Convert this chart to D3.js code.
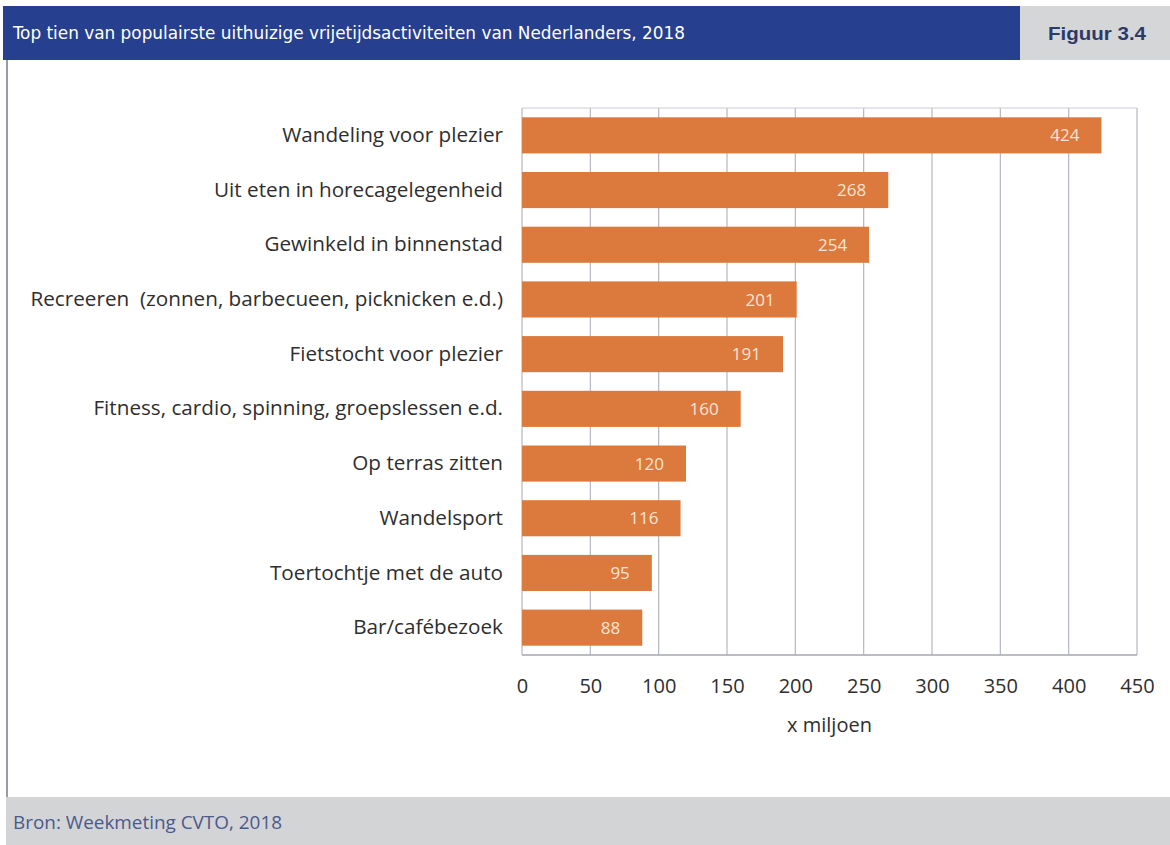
<!DOCTYPE html>
<html>
<head>
<meta charset="utf-8">
<script src="https://cdn.jsdelivr.net/npm/d3@7"></script>
<style>
  html, body { margin: 0; padding: 0; background: #ffffff; }
  svg { display: block; }
  .cat text { white-space: pre; }
</style>
</head>
<body>
<svg id="chart" width="1170" height="845"></svg>
<script>
// Activities, top to bottom, with visits in millions
const categories = [
  "Wandeling voor plezier",
  "Uit eten in horecagelegenheid",
  "Gewinkeld in binnenstad",
  "Recreeren  (zonnen, barbecueen, picknicken e.d.)",
  "Fietstocht voor plezier",
  "Fitness, cardio, spinning, groepslessen e.d.",
  "Op terras zitten",
  "Wandelsport",
  "Toertochtje met de auto",
  "Bar/cafébezoek"
];
const values = [424, 268, 254, 201, 191, 160, 120, 116, 95, 88];
const xTicks = [0, 50, 100, 150, 200, 250, 300, 350, 400, 450];

const titleText = "Top tien van populairste uithuizige vrijetijdsactiviteiten van Nederlanders, 2018";
const figureText = "Figuur 3.4";
const axisTitle = "x miljoen";
const sourceText = "Bron: Weekmeting CVTO, 2018";

const svg = d3.select("#chart");
const W = 1170, H = 845;

// Header band
svg.append("rect").attr("x", 3).attr("y", 6).attr("width", 1017).attr("height", 54).attr("fill", "#263f8f");
svg.append("rect").attr("x", 1020).attr("y", 6).attr("width", 150).attr("height", 54).attr("fill", "#d5d6d8");
svg.append("text")
  .attr("x", 13).attr("y", 39)
  .attr("textLength", 672).attr("lengthAdjust", "spacingAndGlyphs")
  .attr("font-family", "'Liberation Sans Narrow', 'DejaVu Sans Condensed', 'Liberation Sans', sans-serif")
  .attr("font-size", 17).attr("fill", "#ffffff")
  .text(titleText);
svg.append("text")
  .attr("x", 1048).attr("y", 40)
  .attr("textLength", 98).attr("lengthAdjust", "spacingAndGlyphs")
  .attr("font-family", "'Liberation Sans', 'DejaVu Sans', sans-serif")
  .attr("font-weight", "bold")
  .attr("font-size", 18).attr("fill", "#2b3a68")
  .text(figureText);

// Left frame line
svg.append("line").attr("x1", 7).attr("x2", 7).attr("y1", 60).attr("y2", 797)
  .attr("stroke", "#9a9ca3").attr("stroke-width", 2);

// Footer band
svg.append("rect").attr("x", 6).attr("y", 797).attr("width", W - 6).attr("height", H - 797).attr("fill", "#d3d4d6");
svg.append("text")
  .attr("x", 13).attr("y", 829)
  .attr("textLength", 269).attr("lengthAdjust", "spacingAndGlyphs")
  .attr("font-family", "'Open Sans', 'DejaVu Sans', sans-serif")
  .attr("font-size", 18).attr("fill", "#4b5a8c")
  .text(sourceText);

// Plot area
const plot = { left: 522, right: 1137, top: 108, bottom: 655 };
const x = d3.scaleLinear().domain([0, 450]).range([plot.left, plot.right]);
const y = d3.scaleBand().domain(categories).range([plot.top, plot.bottom]).paddingInner(0.34).paddingOuter(0.17);

const labelFont = "'Open Sans', 'Noto Sans', sans-serif";

// Vertical gridlines
svg.append("g").selectAll("line").data(xTicks).join("line")
  .attr("x1", d => x(d)).attr("x2", d => x(d))
  .attr("y1", plot.top).attr("y2", plot.bottom)
  .attr("stroke", "#b4b7c0").attr("stroke-width", 1.2);
// Top edge and baseline
svg.append("line").attr("x1", plot.left).attr("x2", plot.right).attr("y1", plot.top).attr("y2", plot.top)
  .attr("stroke", "#c9ccd4").attr("stroke-width", 1);
svg.append("line").attr("x1", plot.left).attr("x2", plot.right).attr("y1", plot.bottom).attr("y2", plot.bottom)
  .attr("stroke", "#a4a7af").attr("stroke-width", 1.5);

// Bars
svg.append("g").selectAll("rect").data(values).join("rect")
  .attr("x", x(0))
  .attr("y", (d, i) => y(categories[i]))
  .attr("width", d => x(d) - x(0))
  .attr("height", y.bandwidth())
  .attr("fill", "#dc7a3d");

// Value labels inside the bar ends
svg.append("g").selectAll("text").data(values).join("text")
  .attr("x", d => x(d) - 22)
  .attr("y", (d, i) => y(categories[i]) + y.bandwidth() / 2)
  .attr("dy", "0.36em")
  .attr("text-anchor", "end")
  .attr("font-family", labelFont).attr("font-size", 17)
  .attr("fill", "#fbe4d2")
  .text(d => d);

// Category axis
const yAxis = d3.axisLeft(y).tickSize(0).tickPadding(19);
const gy = svg.append("g").attr("class", "cat").attr("transform", `translate(${plot.left},0)`).call(yAxis);
gy.select(".domain").remove();
gy.selectAll("text").attr("font-family", labelFont).attr("font-size", 20.7).attr("fill", "#2e2e2e")
  .attr("xml:space", "preserve");

// Value axis
const xAxis = d3.axisBottom(x).tickValues(xTicks).tickSize(0).tickPadding(24);
const gx = svg.append("g").attr("transform", `translate(0,${plot.bottom})`).call(xAxis);
gx.select(".domain").remove();
gx.selectAll("text").attr("font-family", labelFont).attr("font-size", 20).attr("fill", "#2e2e2e");

svg.append("text")
  .attr("x", (plot.left + plot.right) / 2).attr("y", 732)
  .attr("text-anchor", "middle")
  .attr("font-family", labelFont).attr("font-size", 20).attr("fill", "#2e2e2e")
  .text(axisTitle);
</script>
</body>
</html>
